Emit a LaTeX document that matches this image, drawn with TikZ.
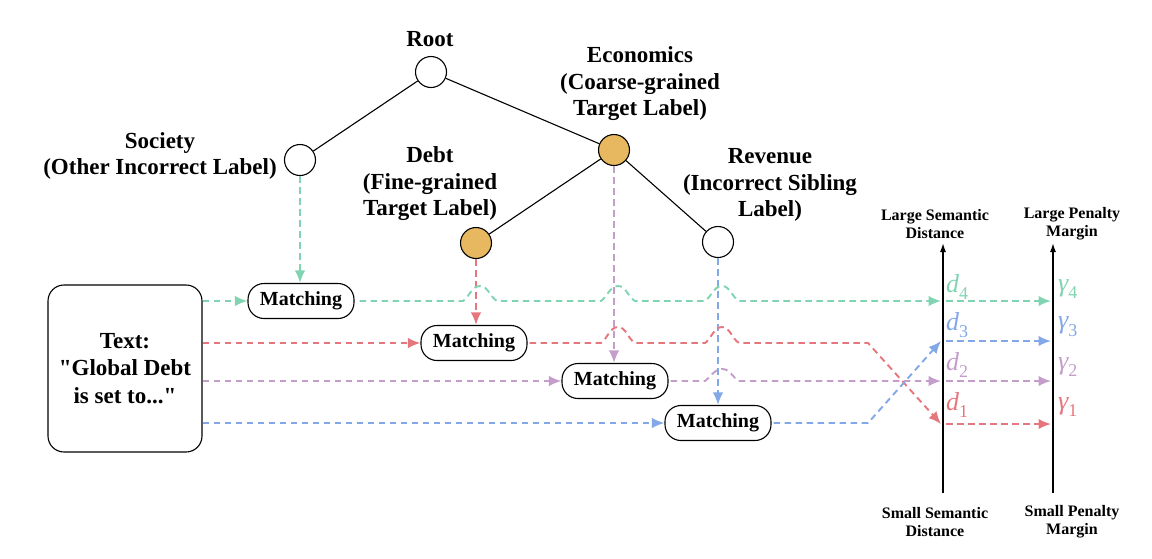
\documentclass[tikz,border=0pt]{standalone}
\usepackage{fontspec}
\setmainfont{Liberation Serif}
\newfontfamily\qfont{Liberation Serif}
\usetikzlibrary{arrows.meta}
\definecolor{cg}{HTML}{80D4B2}
\definecolor{cr}{HTML}{E6767E}
\definecolor{cp}{HTML}{C49DCB}
\definecolor{cb}{HTML}{82A8E8}
\definecolor{corange}{HTML}{E8B860}
\newcommand\lbfont{\fontsize{23}{26.5}\selectfont\bfseries}
\newcommand\bxfont{\qfont\fontsize{23}{27.5}\selectfont\bfseries}
\newcommand\mfont{\fontsize{20}{22}\selectfont\bfseries}
\newcommand\axfont{\fontsize{16}{18}\selectfont\bfseries}
\newcommand\vfont{\fontsize{26}{26}\selectfont\itshape}
\newcommand\lowsub[1]{\raisebox{-0.3em}{\fontsize{18}{18}\selectfont\upshape #1}}
\begin{document}
\begin{tikzpicture}[x=1pt,y=-1pt,
  circ/.style={circle,draw,line width=1.1pt,minimum size=31pt,inner sep=0pt,fill=white},
  gold/.style={circ,fill=corange},
  tlabel/.style={align=center,font=\lbfont,inner sep=0pt},
  match/.style={draw,line width=1.1pt,rounded corners=16pt,minimum width=106pt,minimum height=35pt,inner sep=0pt,font=\mfont},
  dline/.style={line width=1.9pt,dash pattern=on 6.5pt off 4.5pt},
  tip/.style={-{Latex[length=12.5pt,width=10.5pt]}},
  axisline/.style={line width=1.4pt,-{Latex[length=9pt,width=6pt]}},
  axlab/.style={align=center,font=\axfont,inner sep=0pt},
  jump/.style args={#1/#2/#3}{insert path={-- (#1-13,#2) .. controls (#1-7,#2-4) and (#1-4,#2-#3) .. (#1+4,#2-#3) .. controls (#1+12,#2-#3) and (#1+14,#2-4) .. (#1+21,#2)}}
]
\useasboundingbox (0,0) rectangle (1152,558);

% tree
\node[circ] (root) at (431,72) {};
\node[circ] (soc) at (300,160) {};
\node[gold] (econ) at (614,150) {};
\node[gold] (debt) at (476,243) {};
\node[circ] (rev) at (718,242) {};
\draw[line width=1.1pt] (root) -- (soc);
\draw[line width=1.1pt] (root) -- (econ);
\draw[line width=1.1pt] (econ) -- (debt);
\draw[line width=1.1pt] (econ) -- (rev);

\node[tlabel] (lroot) at (430,39) {Root};
\node[tlabel] (lsoc) at (160,156) {Society\\(Other Incorrect Label)};
\node[tlabel] (ldebt) at (430,184) {Debt\\(Fine-grained\\Target Label)};
\node[tlabel] (lecon) at (640,84) {Economics\\(Coarse-grained\\Target Label)};
\node[tlabel] (lrev) at (770,185) {Revenue\\(Incorrect Sibling\\Label)};

% text box
\node[draw,line width=1.1pt,rounded corners=16pt,minimum width=154pt,minimum height=167pt,align=center,font=\bxfont,inner sep=0pt] (txt) at (125,368.5) {\raisebox{0pt}[\height][\depth]{}Text:\\"Global Debt\\is set to..."};

% matching nodes
\node[match] (m1) at (301,301) {Matching};
\node[match] (m2) at (474,343) {Matching};
\node[match] (m3) at (615,381) {Matching};
\node[match] (m4) at (718,423) {Matching};

% axes
\coordinate (a1b) at (943,493);
\coordinate (a1t) at (943,243);
\coordinate (a2b) at (1053,493);
\coordinate (a2t) at (1053,243);
\draw[axisline] (a1b) -- (a1t);
\draw[axisline] (a2b) -- (a2t);
\node[axlab] (lls) at (935,224) {Large Semantic\\Distance};
\node[axlab] (llp) at (1072,224) {Large Penalty\\Margin};
\node[axlab] (lss) at (935,522) {Small Semantic\\Distance};
\node[axlab] (lsp) at (1072,522) {Small Penalty\\Margin};

\coordinate (d4) at (941,301);
\coordinate (d3) at (941,341);
\coordinate (d2) at (941,381);
\coordinate (d1) at (941,424);
\coordinate (g4) at (1051,301);
\coordinate (g3) at (1051,341);
\coordinate (g2) at (1051,381);
\coordinate (g1) at (1051,424);
\coordinate (r4) at (946,301);
\coordinate (r3) at (946,341);
\coordinate (r2) at (946,381);
\coordinate (r1) at (946,424);

\node[anchor=west,text=cg,font=\vfont,inner sep=0pt] (ld4) at (946,287) {d\lowsub{4}};
\node[anchor=west,text=cb,font=\vfont,inner sep=0pt] (ld3) at (946,325) {d\lowsub{3}};
\node[anchor=west,text=cp,font=\vfont,inner sep=0pt] (ld2) at (946,365) {d\lowsub{2}};
\node[anchor=west,text=cr,font=\vfont,inner sep=0pt] (ld1) at (946,405) {d\lowsub{1}};
\node[anchor=west,text=cg,font=\vfont,inner sep=0pt] (lg4) at (1058,289) {γ\lowsub{4}};
\node[anchor=west,text=cb,font=\vfont,inner sep=0pt] (lg3) at (1058,327) {γ\lowsub{3}};
\node[anchor=west,text=cp,font=\vfont,inner sep=0pt] (lg2) at (1058,367) {γ\lowsub{2}};
\node[anchor=west,text=cr,font=\vfont,inner sep=0pt] (lg1) at (1058,407) {γ\lowsub{1}};

% inputs from text
\draw[cg,dline,tip] (txt.east |- m1.west) -- (m1.west);
\draw[cr,dline,tip] (txt.east |- m2.west) -- (m2.west);
\draw[cp,dline,tip] (txt.east |- m3.west) -- (m3.west);
\draw[cb,dline,tip] (txt.east |- m4.west) -- (m4.west);

% inputs from tree
\draw[cg,dline,tip] (soc.south) -- (soc.south |- m1.north);
\draw[cr,dline,tip] (debt.south) -- (debt.south |- m2.north);
\draw[cp,dline,tip] (econ.south) -- (econ.south |- m3.north);
\draw[cb,dline,tip] (rev.south) -- (rev.south |- m4.north);

% outputs to distance axis
\draw[cg,dline,tip] ([xshift=5pt]m1.east) [jump=476/301/15] [jump=614/301/15] [jump=718/301/15] -- (d4);
\draw[cr,dline,tip] ([xshift=2pt]m2.east) [jump=614/343/16] [jump=718/343/16] -- (868,343) -- (d1);
\draw[cp,dline,tip] ([xshift=2pt]m3.east) [jump=718/381/12] -- (d2);
\draw[cb,dline,tip] ([xshift=2pt]m4.east) -- (868,423) -- (d3);

% distance to margin
\draw[cg,dline,tip] (r4) -- (g4);
\draw[cb,dline,tip] (r3) -- (g3);
\draw[cp,dline,tip] (r2) -- (g2);
\draw[cr,dline,tip] (r1) -- (g1);
\end{tikzpicture}
\end{document}
